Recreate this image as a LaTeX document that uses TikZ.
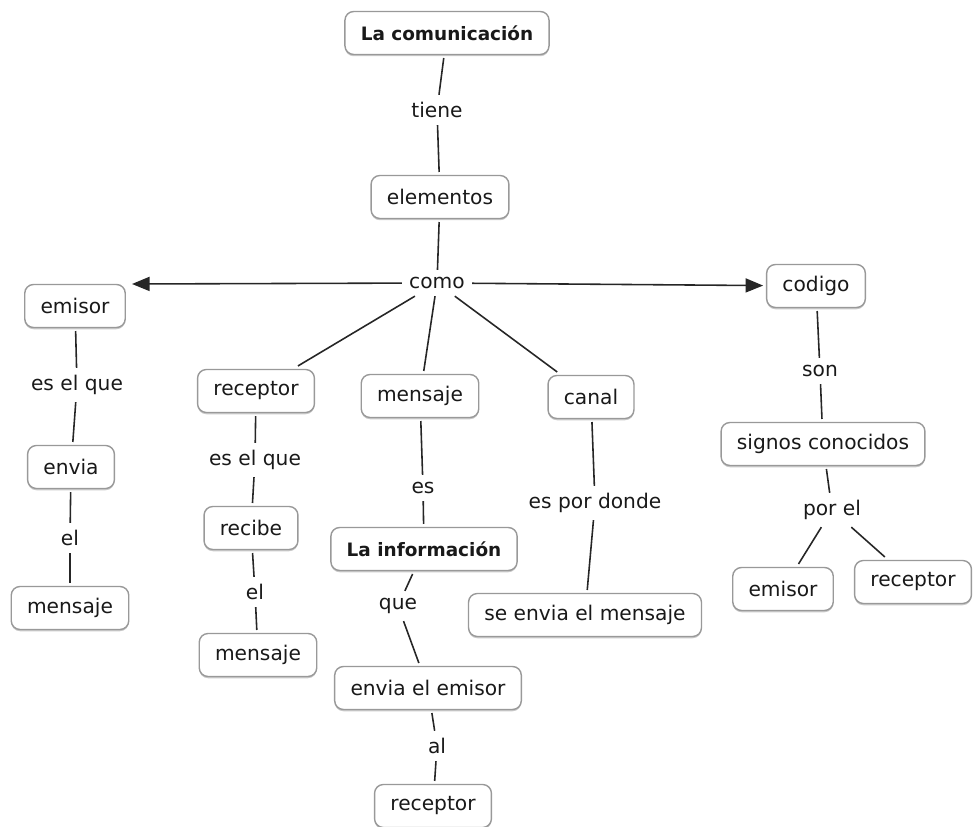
\documentclass[tikz,border=0pt]{standalone}
\usepackage{fontspec}
\setmainfont{DejaVu Sans}
\usetikzlibrary{arrows.meta,shadows}

\begin{document}
\begin{tikzpicture}
[x=0.02cm,y=-0.02cm,
concept/.style={shape=rectangle,rounded corners=5pt,draw=black!40,line width=0.8pt,fill=white,
  drop shadow={shadow xshift=0pt,shadow yshift=-1pt,fill=black!35,opacity=0.6},
  inner xsep=9pt,minimum height=0.86cm,outer sep=2pt,text=black!90,
  font=\fontsize{11.5}{14}\selectfont},
boldconcept/.style={concept,font=\fontsize{10.5}{13}\selectfont\bfseries},
link/.style={inner sep=4pt,text=black!90,font=\fontsize{11.5}{14}\selectfont},
myedge/.style={line width=0.9pt,black!85},
myarrow/.style={myedge,-{Triangle[length=10pt,width=8pt]}}]
\useasboundingbox (0,0) rectangle (974,827);
%%
\node (com) [boldconcept] at (447,33) {La comunicación};
\node (tiene) [link] at (437,110) {tiene};
\node (elem) [concept] at (440,197) {elementos};
\node (como) [link] at (437,283) {como};
\coordinate (tipL) at (132,284);
%% emisor
\node (emisor1) [concept] at (75,306) {emisor};
\node (esque1) [link] at (77,385) {es el que};
\node (envia) [concept] at (71,467) {envia};
\node (el1) [link] at (70,538) {el};
\node (mensaje1) [concept] at (70,608) {mensaje};
%% receptor
\node (receptor1) [concept] at (256,391) {receptor};
\node (esque2) [link] at (255,460) {es el que};
\node (recibe) [concept] at (251,528) {recibe};
\node (el2) [link] at (255,592) {el};
\node (mensaje2) [concept] at (258,655) {mensaje};
%% mensaje
\node (mensaje3) [concept] at (420,396) {mensaje};
\node (es) [link] at (423,488) {es};
\node (info) [boldconcept] at (424,549) {La información};
\node (que) [link] at (398,606) {que};
\node (enviaem) [concept] at (428,688) {envia el emisor};
\node (al) [link] at (437,746) {al};
\node (receptor2) [concept] at (433,806) {receptor};
%% canal
\node (canal) [concept] at (591,397) {canal};
\node (pordonde) [link] at (595,503) {es por donde};
\node (seenvia) [concept] at (585,615) {se envia el mensaje};
%% codigo
\node (codigo) [concept] at (816,286) {codigo};
\node (son) [link] at (820,371) {son};
\node (signos) [concept] at (823,444) {signos conocidos};
\node (porel) [link] at (832,510) {por el};
\node (emisor2) [concept] at (783,589) {emisor};
\node (receptor3) [concept] at (913,582) {receptor};
%%
\draw[myedge] (com) -- (tiene) -- (elem) -- (como);
\draw[myarrow] (como) -- (tipL);
\draw[myarrow] (como) -- (codigo);
\draw[myedge] (como) -- (receptor1);
\draw[myedge] (como) -- (mensaje3);
\draw[myedge] (como) -- (canal);
\draw[myedge] (emisor1) -- (esque1) -- (envia) -- (el1) -- (mensaje1);
\draw[myedge] (receptor1) -- (esque2) -- (recibe) -- (el2) -- (mensaje2);
\draw[myedge] (mensaje3) -- (es) -- (info) -- (que) -- (enviaem) -- (al) -- (receptor2);
\draw[myedge] (canal) -- (pordonde) -- (seenvia);
\draw[myedge] (codigo) -- (son) -- (signos) -- (porel);
\draw[myedge] (porel) -- (emisor2);
\draw[myedge] (porel) -- (receptor3);
%%
\end{tikzpicture}
\end{document}
